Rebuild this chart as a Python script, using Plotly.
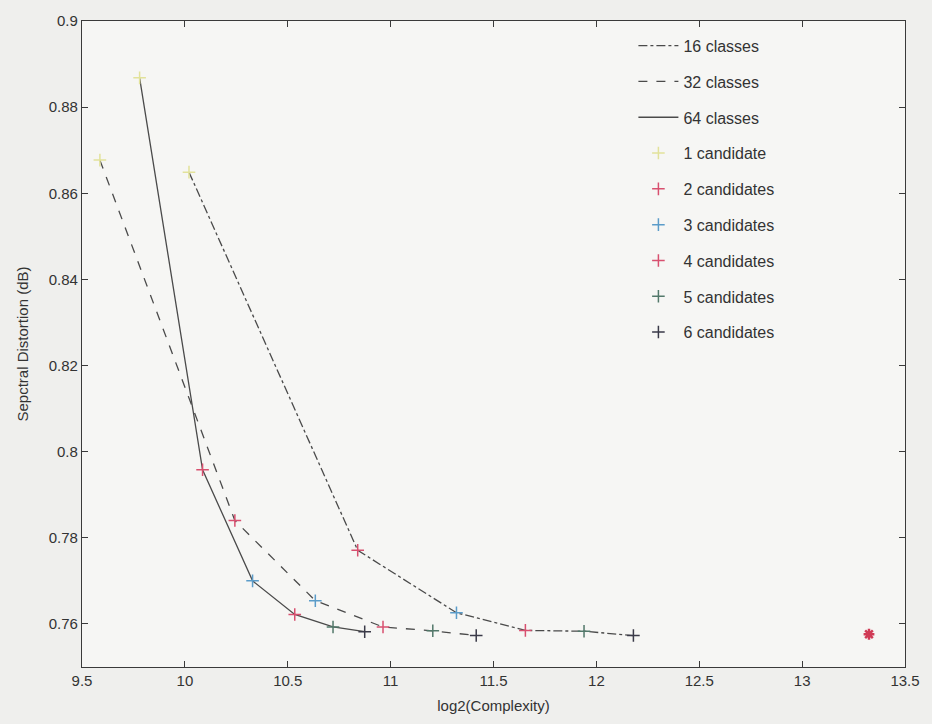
import plotly.graph_objects as go

# log2(complexity) and spectral distortion for 1..6 candidates
x16 = [10.02, 10.84, 11.32, 11.655, 11.94, 12.18]
y16 = [0.8649, 0.7771, 0.7626, 0.7585, 0.7583, 0.7573]
x32 = [9.587, 10.243, 10.634, 10.963, 11.205, 11.416]
y32 = [0.8677, 0.7840, 0.7654, 0.7593, 0.7584, 0.7573]
x64 = [9.78, 10.086, 10.329, 10.534, 10.72, 10.874]
y64 = [0.8868, 0.7958, 0.7700, 0.7622, 0.7593, 0.7582]
x_full = [13.325]
y_full = [0.7576]

class_names = ["16 classes", "32 classes", "64 classes"]
cand_names = ["1 candidate", "2 candidates", "3 candidates",
              "4 candidates", "5 candidates", "6 candidates"]
cand_colors = ["#e2e29a", "#d8506f", "#5b9cc9", "#d8506f", "#52786a", "#3a3a48"]

series = [(x16, y16, "dashdot"), (x32, y32, "dash"), (x64, y64, "solid")]

fig = go.Figure()
for i, (xs, ys, dash) in enumerate(series):
    fig.add_trace(go.Scatter(
        x=xs, y=ys, mode="lines", name=class_names[i],
        legendgroup=class_names[i],
        line=dict(color="#4a4a4a", width=1.3, dash=dash)))

for k in range(6):
    xs = [x16[k], x32[k], x64[k]]
    ys = [y16[k], y32[k], y64[k]]
    fig.add_trace(go.Scatter(
        x=xs, y=ys, mode="markers", name=cand_names[k],
        legendgroup=cand_names[k],
        marker=dict(symbol="cross-thin", size=9,
                    line=dict(color=cand_colors[k], width=1.5))))

fig.add_trace(go.Scatter(
    x=x_full, y=y_full, mode="markers", showlegend=False,
    marker=dict(symbol="asterisk", size=9,
                line=dict(color="#d03a55", width=2.5))))

axis_common = dict(
    showgrid=False, zeroline=False, showline=True, mirror="ticks",
    linecolor="#3a3a3a", linewidth=1.2, ticks="inside", ticklen=6,
    tickcolor="#3a3a3a", tickfont=dict(size=15, color="#333333"),
)

fig.update_layout(
    width=932, height=724,
    margin=dict(l=82, r=26, t=20, b=54),
    paper_bgcolor="#efefed", plot_bgcolor="#f6f6f4",
    font=dict(family="Liberation Sans, Arial, sans-serif", color="#333333"),
    xaxis=dict(range=[9.5, 13.5], dtick=0.5,
               title=dict(text="log2(Complexity)", font=dict(size=15), standoff=12),
               **axis_common),
    yaxis=dict(range=[0.75, 0.9], tickvals=[0.76, 0.78, 0.8, 0.82, 0.84, 0.86, 0.88, 0.9],
               ticktext=["0.76", "0.78", "0.8", "0.82", "0.84", "0.86", "0.88", "0.9"],
               title=dict(text="Sepctral Distortion (dB)", font=dict(size=15), standoff=16),
               **axis_common),
    legend=dict(x=0.67, y=0.988, xanchor="left", yanchor="top",
                bgcolor="rgba(0,0,0,0)", font=dict(size=16, color="#333333"),
                traceorder="grouped", tracegroupgap=12, itemwidth=40),
)

fig.write_html("out.html")
